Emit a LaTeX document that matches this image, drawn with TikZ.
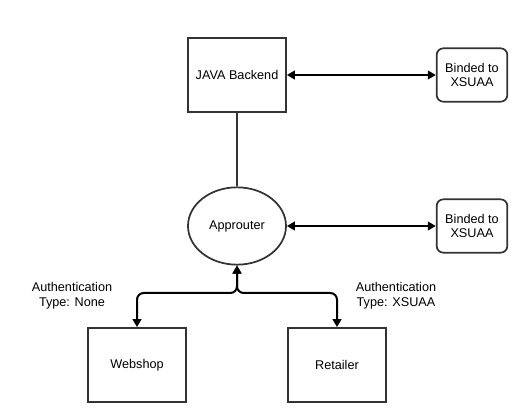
\documentclass[tikz,border=0pt]{standalone}
\usepackage{fontspec}
\setmainfont{Liberation Sans}
\usetikzlibrary{arrows.meta, shapes.geometric}

\tikzset{
	box/.style = {draw=black!80, line width=1.3pt, minimum width=73.5pt, minimum height=55.5pt, align=center},
	xsbox/.style = {draw=black!80, line width=1.3pt, rounded corners=5pt, minimum width=53pt, minimum height=40pt, align=center},
	link/.style = {line width=1.5pt, {Triangle[length=6pt,width=6.5pt]}-{Triangle[length=6pt,width=6.5pt]}},
	note/.style = {align=center, font=\fontsize{9.5}{11}\selectfont}
}

\begin{document}
\begin{tikzpicture}[x=0.75pt, y=-0.75pt, font=\fontsize{9.5}{11}\selectfont]
	\useasboundingbox (0,0) rectangle (521,420);
	\node [box] (java) at (237,75) {JAVA Backend};
	\node [xsbox] (xs1) at (472,75) {Binded to\\XSUAA};
	\node [draw=black!80, line width=1.3pt, ellipse, minimum width=73.5pt, minimum height=58pt] (app) at (237,226) {Approuter};
	\node [xsbox] (xs2) at (472,226) {Binded to\\XSUAA};
	\node [box] (web) at (137,365) {Webshop};
	\node [box] (ret) at (337,365) {Retailer};
	\coordinate (fork) at (237,293);
	\node [note] (authnone) at (72,296) {Authentication\\Type: None};
	\node [note] (authxs) at (396,296) {Authentication\\Type: XSUAA};
	\draw [link] (java) -- (xs1);
	\draw [link] (app) -- (xs2);
	\draw [line width=1.5pt, black!80] (java) -- (app);
	\draw [link, rounded corners=5pt] (web.north) |- (fork) -- (app.south);
	\draw [link, rounded corners=5pt] (ret.north) |- (fork) -- (app.south);
\end{tikzpicture}
\end{document}
